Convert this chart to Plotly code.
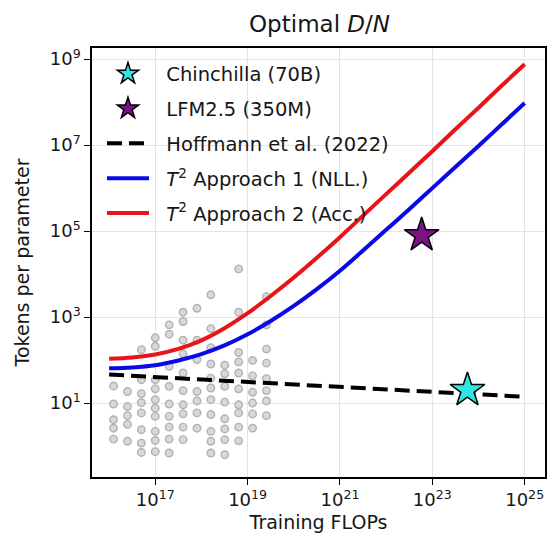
import plotly.graph_objects as go

# Compute-optimal tokens-per-parameter curves (x: training FLOPs)
curve_flops = [1e16, 3.16e16, 1e17, 3.16e17, 1e18, 3.16e18, 1e19, 3.16e19,
               1e20, 3.16e20, 1e21, 3.16e21, 1e22, 3.16e22, 1e23, 3.16e23,
               1e24, 3.16e24, 1e25]
approach1_nll = [64.6, 67.6, 75.9, 97.7, 138, 219, 398, 813,
                 1820, 4470, 12000, 35500, 1.07e5, 3.24e5, 1.0e6, 3.09e6,
                 9.55e6, 3.02e7, 9.55e7]
approach2_acc = [107, 115, 135, 182, 288, 550, 1230, 3090,
                 8320, 24000, 72400, 2.29e5, 7.24e5, 2.29e6, 7.24e6, 2.34e7,
                 7.41e7, 2.40e8, 7.59e8]

hoffmann_flops = [1e16, 1e25]
hoffmann_ratio = [46, 14]

# Reference models
chinchilla = {"flops": 5.76e23, "ratio": 20}
lfm = {"flops": 5.88e22, "ratio": 8.0e4}

# Sweep runs: one column of runs per compute budget
sweep_flops = [1.25e16, 2.5e16, 5e16, 1e17, 2e17, 4e17, 8e17,
               1.6e18, 3.2e18, 6.4e18, 1.28e19, 2.56e19]
sweep_ratios = [
    [25, 9.5, 4.1, 2.6, 1.45],
    [18.6, 8.3, 5.1, 3.2, 1.29],
    [175, 35, 16.6, 10.2, 5.9, 2.4, 1.17, 0.71],
    [330, 210, 35, 21.4, 12.0, 7.6, 4.9, 2.2, 1.35, 0.74],
    [660, 400, 71, 24.5, 9.5, 4.9, 2.75, 1.45, 0.69],
    [1300, 790, 290, 140, 50, 19.5, 9.1, 5.6, 2.75, 1.41],
    [1600, 290, 102, 18.6, 11.2, 5.9, 2.6],
    [3300, 540, 195, 81, 38, 22.4, 12.0, 5.4, 2.2, 1.29, 0.69],
    [76, 48, 24.5, 10.5, 4.3, 2.5, 1.41, 0.63],
    [13200, 1300, 150, 91, 50, 21.4, 9.1, 5.9, 2.75, 1.32],
    [98, 43, 17.8, 10.0, 5.6, 2.6],
    [3000, 660, 180, 85, 37, 19.5, 11.2, 5.1],
]

x_ticks = [1e17, 1e19, 1e21, 1e23, 1e25]
x_tick_text = ["10<sup>17</sup>", "10<sup>19</sup>", "10<sup>21</sup>",
               "10<sup>23</sup>", "10<sup>25</sup>"]
y_ticks = [1e1, 1e3, 1e5, 1e7, 1e9]
y_tick_text = ["10<sup>1</sup>", "10<sup>3</sup>", "10<sup>5</sup>",
               "10<sup>7</sup>", "10<sup>9</sup>"]

FONT = "DejaVu Sans"
INK = "#161616"
PAD = "\u00a0\u00a0"  # small gap between legend swatch and label

pts_x, pts_y = [], []
for c, col in zip(sweep_flops, sweep_ratios):
    pts_x += [c] * len(col)
    pts_y += col

fig = go.Figure()

fig.add_trace(go.Scatter(
    x=pts_x, y=pts_y, mode="markers", showlegend=False, hoverinfo="skip",
    marker=dict(size=7.5, color="#d8d8d8", line=dict(color="#b2b2b2", width=1.4)),
))

fig.add_trace(go.Scatter(
    x=hoffmann_flops, y=hoffmann_ratio, mode="lines",
    name=PAD + "Hoffmann et al. (2022)", legendrank=3, legendgroup="hoff",
    line=dict(color="black", width=4, dash="15px,7px"),
))
fig.add_trace(go.Scatter(
    x=curve_flops, y=approach1_nll, mode="lines", line_shape="spline",
    name=PAD + "<i>T</i><sup>2</sup> Approach 1 (NLL.)", legendrank=4,
    legendgroup="nll", line=dict(color="#0a0ae6", width=4),
))
fig.add_trace(go.Scatter(
    x=curve_flops, y=approach2_acc, mode="lines", line_shape="spline",
    name=PAD + "<i>T</i><sup>2</sup> Approach 2 (Acc.)", legendrank=5,
    legendgroup="acc", line=dict(color="#e8141a", width=4),
))
fig.add_trace(go.Scatter(
    x=[chinchilla["flops"]], y=[chinchilla["ratio"]], mode="markers",
    name=PAD + "Chinchilla (70B)", legendrank=1, legendgroup="chin",
    marker=dict(symbol="star", size=26, color="#30e6e3",
                line=dict(color="black", width=1.5)),
))
fig.add_trace(go.Scatter(
    x=[lfm["flops"]], y=[lfm["ratio"]], mode="markers",
    name=PAD + "LFM2.5 (350M)", legendrank=2, legendgroup="lfm",
    marker=dict(symbol="star", size=26, color="#7b1482",
                line=dict(color="black", width=1.5)),
))

axis_common = dict(
    type="log", showline=True, mirror=True, linecolor="black", linewidth=1.5,
    ticks="outside", ticklen=6, tickwidth=1.2, tickcolor="black",
    showgrid=True, gridcolor="#e4e4e4", gridwidth=1, zeroline=False,
    tickfont=dict(family=FONT, size=18, color=INK),
)

fig.update_layout(
    width=549, height=541,
    margin=dict(l=92, r=2, t=48, b=64),
    paper_bgcolor="white", plot_bgcolor="white",
    font=dict(family=FONT, color=INK),
    title=dict(text="Optimal <i>D</i>/<i>N</i>", x=0.582, xanchor="center",
               y=0.956, yanchor="middle", font=dict(family=FONT, size=23, color=INK)),
    xaxis=dict(axis_common, range=[15.63, 25.44], tickvals=x_ticks,
               ticktext=x_tick_text,
               title=dict(text="Training FLOPs", font=dict(family=FONT, size=19),
                          standoff=6)),
    yaxis=dict(axis_common, range=[-0.72, 9.26], tickvals=y_ticks,
               ticktext=y_tick_text,
               title=dict(text="Tokens per parameter",
                          font=dict(family=FONT, size=19), standoff=15)),
    legend=dict(x=0.022, y=0.985, xanchor="left", yanchor="top",
                bgcolor="rgba(255,255,255,0)", borderwidth=0,
                font=dict(family=FONT, size=19.5, color=INK),
                itemwidth=42, tracegroupgap=6.5),
)

fig.write_html("out.html")
